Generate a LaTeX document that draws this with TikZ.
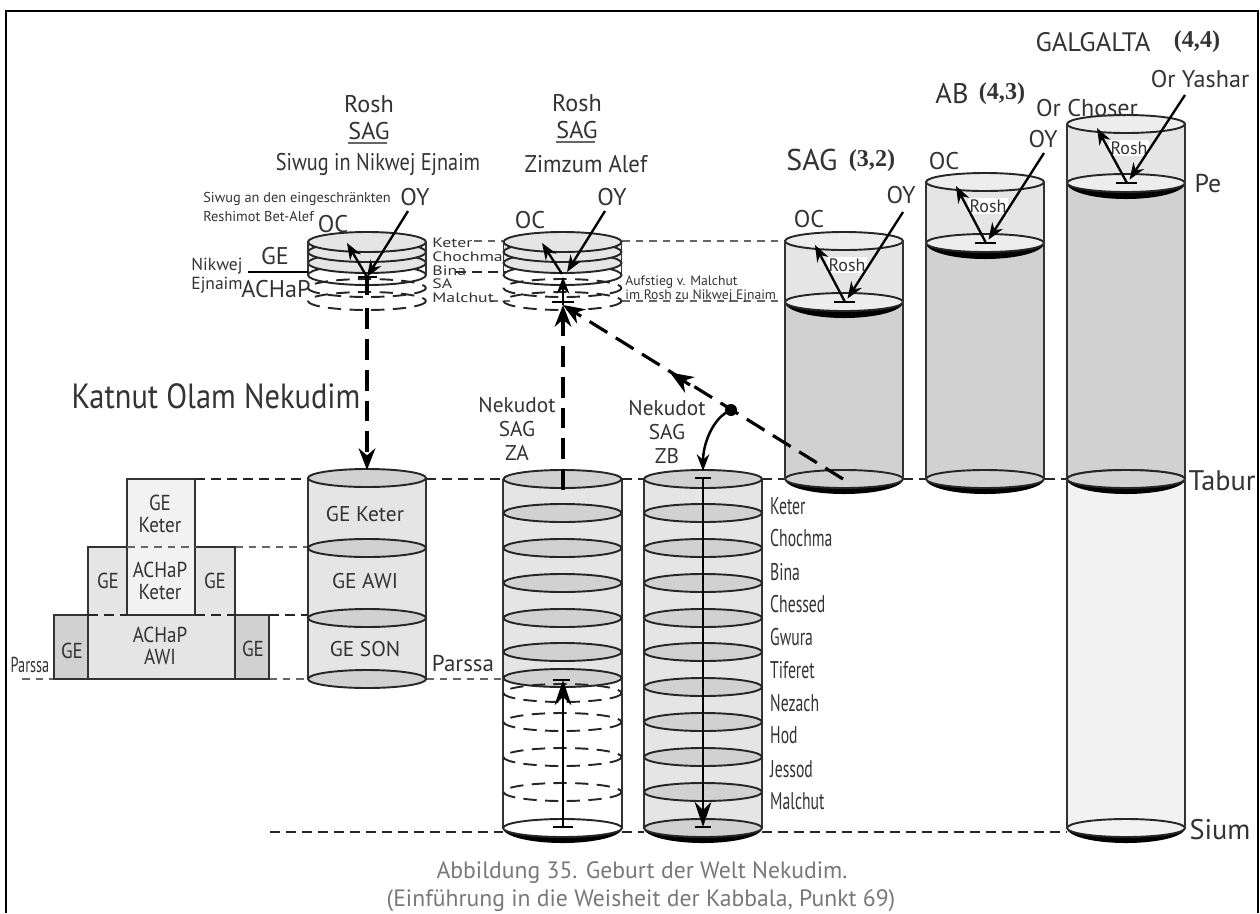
\documentclass[tikz,border=0pt]{standalone}
\usepackage{fontspec}
\setmainfont{PT Sans}
\newfontfamily\boldserif{Liberation Serif}
\usetikzlibrary{arrows.meta}
\definecolor{bodylight}{gray}{0.90}
\definecolor{bodymid}{gray}{0.82}
\definecolor{bodypale}{gray}{0.95}
\definecolor{capgrey}{gray}{0.47}
\definecolor{textgrey}{gray}{0.2}
\tikzset{
  lab/.style={font=\fontsize{14.5}{16}\selectfont, text=textgrey, inner sep=0pt},
  midlab/.style={font=\fontsize{12.8}{14.4}\selectfont, text=textgrey, inner sep=0pt},
  biglab/.style={font=\fontsize{17}{19}\selectfont, text=textgrey, inner sep=0pt},
  smalllab/.style={font=\fontsize{8.2}{9}\selectfont, text=textgrey, inner sep=0pt},
  sidelab/.style={font=\fontsize{14.5}{16}\selectfont, text=textgrey, inner sep=0pt, anchor=west, xscale=0.65},
  steplab/.style={font=\fontsize{13}{13.6}\selectfont, text=textgrey, inner sep=0pt, xscale=0.88},
  widelab/.style={font=\fontsize{8.2}{9}\selectfont, text=textgrey, inner sep=0pt, anchor=west, xscale=1.3},
  numlab/.style={font=\boldserif\bfseries\fontsize{14.5}{16}\selectfont, text=textgrey, inner sep=0pt},
  caplab/.style={font=\fontsize{14.2}{16.5}\selectfont, text=capgrey, inner sep=0pt},
  rim/.style={draw=black!85, line width=1.15pt},
  side/.style={draw=black!80, line width=1.15pt},
  levelline/.style={draw=black!85, dash pattern=on 6pt off 3.6pt, line width=1pt},
  greyline/.style={draw=black!60, dash pattern=on 4.5pt off 3.6pt, line width=0.8pt},
  bigdash/.style={draw=black, dash pattern=on 12.5pt off 6pt, line width=1.9pt},
  ray/.style={draw=black, line width=1.4pt, -{Stealth[length=10pt,width=7.5pt]}},
  bigray/.style={draw=black, line width=1.6pt, -{Stealth[length=15pt,width=10pt]}},
  tbar/.style={draw=black, line width=1.4pt},
}
\begin{document}
\begin{tikzpicture}[x=0.6pt, y=-0.6pt]
\useasboundingbox (0,0) rectangle (1260,913);

% frame
\draw[line width=1.4pt] (6,913) -- (6,11) -- (1258,11) -- (1258,913);

% level lines
\foreach \xa/\xb in {195/308, 426/503, 622/644, 762/785, 903/926, 1045/1067}
  \draw[levelline] (\xa,479) -- (\xb,479);
\foreach \xa/\xb in {270/503, 622/644, 762/1067}
  \draw[levelline] (\xa,832) -- (\xb,832);
\draw[levelline] (269,615) -- (308,615);
\draw[greyline] (235,547) -- (308,547);
\draw[greyline] (22,679) -- (54,679);
\draw[greyline] (269,679) -- (308,679);
\draw[greyline] (426,679) -- (570,679);
\draw[greyline] (474,241) -- (503,241);
\draw[greyline] (622,241) -- (785,241);
\draw[greyline] (490,301) -- (510,301);
\draw[greyline] (622,301) -- (785,301);
\draw[levelline] (456,272) -- (510,272);

% the three partzufim
\foreach \cx/\ytop/\ype/\ybot in {844/241/302/479, 985/182/243/479, 1126/124/183/479} {
  \fill[bodylight] (\cx-59,\ytop) rectangle (\cx+59,\ype);
  \fill[bodymid] (\cx-59,\ype) rectangle (\cx+59,\ybot);
  \draw[rim, fill=bodylight!70!white] (\cx,\ytop) ellipse [x radius=59, y radius=9];
  \fill (\cx-59,\ype) arc (180:0:59 and 16) arc (0:180:59 and 9) -- cycle;
  \draw[rim, fill=bodylight!70!white] (\cx,\ype) ellipse [x radius=59, y radius=9];
  \fill (\cx-59,\ybot) arc (180:0:59 and 15) arc (0:180:59 and 9) -- cycle;
  \draw[rim, fill=bodymid] (\cx,\ybot) ellipse [x radius=59, y radius=9];
  \draw[side] (\cx-59,\ytop) -- (\cx-59,\ybot) (\cx+59,\ytop) -- (\cx+59,\ybot);
  \coordinate (peak\cx) at (\cx+1,\ype);
  \coordinate (oc\cx) at (\cx-29,\ytop+4);
  \coordinate (oy\cx) at (\cx+59,\ytop-29);
  \node[lab, fill=white, inner sep=1pt, font=\fontsize{10.8}{12}\selectfont] (rosh\cx) at (\cx+3,\ytop+24) {Rosh};
  \draw[ray] (peak\cx) -- (oc\cx);
  \draw[ray] (oy\cx) -- ([xshift=1.5pt,yshift=2pt]peak\cx);
  \draw[tbar] (\cx-10,\ype) -- (\cx+11,\ype);
}

% lower part of Galgalta
\fill[bodypale] (1067,483) rectangle (1185,828);
\fill (1067,479) arc (180:0:59 and 15) arc (0:180:59 and 9) -- cycle;
\draw[rim, fill=bodymid] (1126,479) ellipse [x radius=59, y radius=9];
\fill (1067,828) arc (180:0:59 and 15) arc (0:180:59 and 9) -- cycle;
\draw[rim, fill=bodypale] (1126,828) ellipse [x radius=59, y radius=9];
\draw[side] (1067,479) -- (1067,828) (1185,479) -- (1185,828);

% stepped figure
\fill[bodymid] (54,615) rectangle (269,679);
\fill[bodylight] (88,615) rectangle (235,679);
\fill[bodylight] (88,547) rectangle (235,615);
\fill[bodypale] (127,479) rectangle (195,615);
\draw[line width=1.4pt, black!80] (127,547) -- (127,479) -- (195,479) -- (195,547);
\draw[line width=1.4pt, black!80] (127,615) -- (127,547) -- (88,547) -- (88,679);
\draw[line width=1.4pt, black!80] (195,615) -- (195,547) -- (235,547) -- (235,679);
\draw[line width=1.4pt, black!80] (127,615) -- (195,615);
\draw[line width=1.4pt, black!80] (88,615) -- (54,615) -- (54,679) -- (269,679) -- (269,615) -- (235,615);
\draw[greyline] (127,547) -- (195,547);
\draw[levelline] (88,615) -- (127,615) (195,615) -- (235,615);

% GE cylinder
\fill[bodylight] (308,479) rectangle (426,679);
\draw[side] (308,479) -- (308,679) (426,479) -- (426,679);
\foreach \ylev in {478, 548, 618, 679}
  \draw[rim, fill=bodymid] (367,\ylev) ellipse [x radius=59, y radius=9];

% ZA cylinder
\fill[bodylight] (503,479) rectangle (622,679);
\draw[side] (503,479) -- (503,828) (622,479) -- (622,828);
\foreach \ylev in {479, 513, 548, 583, 618, 652, 678}
  \draw[rim, fill=bodymid] (562.5,\ylev) ellipse [x radius=59, y radius=9];
\foreach \ylev in {693, 722, 757, 792}
  \draw[rim, dash pattern=on 8pt off 5pt] (562.5,\ylev) ellipse [x radius=59, y radius=9];
\fill (503,828) arc (180:0:59.5 and 15) arc (0:180:59.5 and 9) -- cycle;
\draw[rim, fill=white] (562.5,828) ellipse [x radius=59.5, y radius=9];

% ZB cylinder
\fill[bodylight] (644,479) rectangle (762,828);
\draw[side] (644,479) -- (644,828) (762,479) -- (762,828);
\foreach \ylev in {479, 513, 548, 583, 618, 652, 687, 722, 757, 792}
  \draw[rim, fill=bodymid] (703,\ylev) ellipse [x radius=59, y radius=9];
\fill (644,828) arc (180:0:59 and 15) arc (0:180:59 and 9) -- cycle;
\draw[rim, fill=bodymid] (703,828) ellipse [x radius=59, y radius=9];

% Rosh discs
\foreach \cx in {367, 562.5} {
  \fill[bodylight] (\cx-59,242) rectangle (\cx+59,263);
  \draw[rim, fill=white] (\cx,275) ellipse [x radius=59, y radius=10];
  \foreach \ylev in {263, 252, 242}
    \draw[rim, fill=bodylight] (\cx,\ylev) ellipse [x radius=59, y radius=10];
  \draw[side] (\cx-59,242) -- (\cx-59,275) (\cx+59,242) -- (\cx+59,275);
  \foreach \ylev in {288, 301}
    \draw[rim, dash pattern=on 8pt off 5pt] (\cx,\ylev) ellipse [x radius=59, y radius=9];
}
\draw[line width=1.4pt] (248,272) -- (308,272);

% arrows in the Rosh discs
\coordinate (peakA) at (367,277);
\coordinate (peakB) at (562,274);
\coordinate (geTop) at (367,470);
\coordinate (zaTop) at (563,490);
\coordinate (crossB) at (563,305);
\coordinate (taburSag) at (843,479);
\coordinate (zbTop) at (703,471);
\coordinate (zbEnd) at (703,827);
\coordinate (zaEnd) at (563,827);
\coordinate (parssaTop) at (563,680);
\draw[ray] (peakA) -- (347,243);
\draw[ray] (408,211) -- (peakA);
\draw[ray] (peakB) -- (542,243);
\draw[ray] (605,211) -- (567,272);
\draw[tbar] (358,277) -- (377,277);
\draw[line width=1.9pt] (peakA) -- (367,295);
\draw[bigdash, -{Stealth[length=13pt,width=10pt]}] (367,308) -- (geTop);
\draw[bigdash, -{Stealth[length=13pt,width=10pt]}] (zaTop) -- (crossB);
\draw[ray] (crossB) -- (563,277);
\draw[tbar] (552,302) -- (574,302);

% diagonal
\draw[bigdash, -{Stealth[length=13pt,width=10pt]}] (taburSag) -- (crossB);
\draw[draw=black, -{Stealth[length=14pt,width=11pt]}, line width=1.9pt] (690,385) -- (670,372.5);
\fill (731,410) circle (6);
\draw[ray, line width=1.5pt] (731,410) .. controls (712,418) and (703,445) .. (zbTop);

% long arrows
\draw[bigray] (703,478) -- (zbEnd);
\draw[tbar] (695,478) -- (711,478);
\draw[tbar] (695,827) -- (711,827);
\draw[bigray] (zaEnd) -- (parssaTop);
\draw[tbar] (553,827) -- (573,827);
\draw[tbar] (553,680) -- (570,680);

% labels top
\node[lab, font=\fontsize{16}{18}\selectfont] (galgalta) at (1093,42) {GALGALTA};
\node[numlab] (numgal) at (1197,42) {(4,4)};
\node[lab] (oryashar) at (1200,79) {Or Yashar};
\node[lab] (orchoser) at (1087,108) {Or Choser};
\node[biglab] (ab) at (952,94) {AB};
\node[numlab] (numab) at (1002,94) {(4,3)};
\node[biglab, font=\fontsize{18}{20}\selectfont] (sag) at (812,160) {SAG};
\node[numlab] (numsag) at (872,161) {(3,2)};
\node[lab] (ocab) at (944,161) {OC};
\node[lab] (ocsag) at (809,219) {OC};
\node[lab] (oyab) at (1043,139) {OY};
\node[lab] (oysag) at (901,195) {OY};
\node[lab, font=\fontsize{15.5}{17}\selectfont] (pe) at (1208,184) {Pe};
\node[biglab] (tabur) at (1222,481) {Tabur};
\node[biglab] (sium) at (1220,830) {Sium};

\node[lab] (roshA) at (369,104) {Rosh};
\node[lab] (sagA) at (369,131) {SAG};
\draw[black!60, line width=1.2pt] (sagA.south west) ++(0,3) -- ++(39,0);
\node[lab, xscale=0.84] (siwug) at (378,164) {Siwug in Nikwej Ejnaim};
\node[lab] (roshB) at (577,103) {Rosh};
\node[lab] (sagB) at (577,130) {SAG};
\draw[black!60, line width=1.2pt] (sagB.south west) ++(0,3) -- ++(39,0);
\node[lab, xscale=0.94] (zimzum) at (586,164) {Zimzum Alef};
\node[lab] (oyA) at (415,197) {OY};
\node[lab] (oyB) at (612,197) {OY};
\node[lab] (ocA) at (333,224) {OC};
\node[lab] (ocB) at (530,220) {OC};
\node[smalllab, anchor=west, font=\fontsize{8.6}{11.4}\selectfont, align=left] (reshimot) at (203,206.5) {Siwug an den eingeschränkten\\Reshimot Bet-Alef};
\node[lab] (ge) at (275,256) {GE};
\node[lab] (achap) at (276,289) {ACHaP};
\node[smalllab, font=\fontsize{10.5}{11.5}\selectfont, align=center] (nikwej) at (217,275.5) {Nikwej\\Ejnaim};
\node[widelab] (ketertop) at (432,243) {Keter};
\node[widelab] (chochmatop) at (432,257) {Chochma};
\node[widelab] (binatop) at (432,271) {Bina};
\node[widelab] (satop) at (432,284) {SA};
\node[widelab] (malchuttop) at (432,298) {Malchut};
\node[smalllab, anchor=west, align=left, font=\fontsize{8.2}{8.8}\selectfont] (aufstieg) at (625,289) {Aufstieg v. Malchut\\im Rosh zu Nikwej Ejnaim};

% labels middle
\node[lab, font=\fontsize{21}{24}\selectfont, xscale=0.87] (katnut) at (216,396) {Katnut Olam Nekudim};
\node[midlab, align=center] (nekza) at (517,429) {Nekudot\\SAG\\ZA};
\node[midlab, align=center] (nekzb) at (667,432) {Nekudot\\SAG\\ZB};
\node[midlab, font=\fontsize{13.8}{15}\selectfont] (parssa) at (463,663) {Parssa};
\node[midlab] (geketer) at (365,514) {GE Keter};
\node[midlab] (geawi) at (365,581) {GE AWI};
\node[midlab] (geson) at (365,649) {GE SON};

\node[steplab, align=center] (stepketer) at (160,514) {GE\\Keter};
\node[steplab, align=center] (stepachap) at (160,581) {ACHaP\\Keter};
\node[steplab] (stepgeleft) at (108,581) {GE};
\node[steplab] (stepgeright) at (215,581) {GE};
\node[steplab, align=center] (stepawi) at (160,646) {ACHaP\\AWI};
\node[steplab] (stepgelow) at (72,651) {GE};
\node[steplab] (stepgelowr) at (253,649) {GE};
\node[steplab, xscale=0.75] (parssaleft) at (30,665) {Parssa};

\foreach \yl/\nm in {506/Keter, 538/Chochma, 572/Bina, 604/Chessed, 637/Gwura, 670/Tiferet, 703/Nezach, 735/Hod, 769/Jessod, 801/Malchut}
  \node[sidelab] (sefira\nm) at (770,\yl) {\nm};

\node[caplab] (captionA) at (642,873) {Abbildung 35. Geburt der Welt Nekudim.};
\node[caplab] (captionB) at (641,901) {(Einführung in die Weisheit der Kabbala, Punkt 69)};
\end{tikzpicture}
\end{document}
